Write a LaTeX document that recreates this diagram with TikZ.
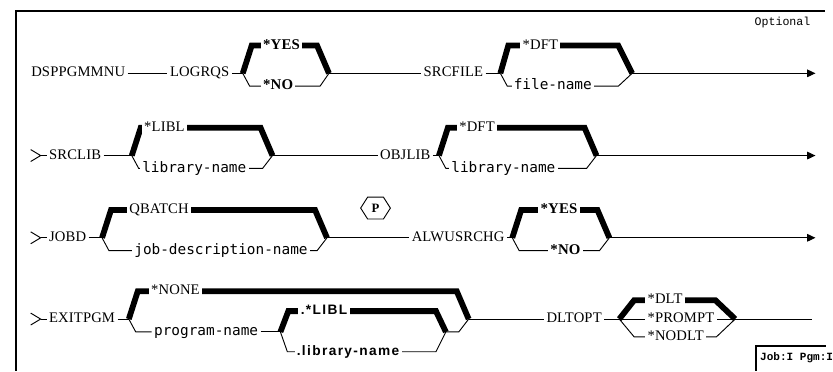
\documentclass[tikz,border=0pt]{standalone}
\usepackage{fontspec}
\setmainfont{Liberation Serif}
\newfontfamily\kwfont[LetterSpace=1]{Liberation Serif}
\newfontfamily\namefont{DejaVu Sans Mono}
\newfontfamily\dotfont[LetterSpace=10]{Liberation Sans}
\newfontfamily\plainmono{Liberation Mono}
\usetikzlibrary{arrows.meta, calc}

% one branch of a choice: from junction #2 out by (#4,#6), across, back in by #5 to junction #3
\newcommand{\optbranch}[6][]{%
    \draw[#1] (#2) -- ++(#4,#6) -- ($(#3)+(-#5,#6)$) -- (#3);}

\begin{document}
\begin{tikzpicture}[x=0.03cm, y=-0.03cm]

% ================================================================
% Geometry in scan pixels (x right, y down), 833 x 374.
%
%   main lines   y = 74, 157, 240, 322   (row pitch about 83)
%   default branch 28 above the main line, drawn as a heavy bar
%   other branch   13 below, thin
%   every row ends in an arrow at x = 823, except the last one
% ================================================================

\def\rowa{74}
\def\rowb{157}
\def\rowc{240}
\def\rowd{322}
\def\up{28}
\def\dn{13}

\tikzset{
    kw/.style={font=\kwfont\fontsize{12.6}{13}\selectfont, anchor=west,
        inner xsep=2pt, inner ysep=1pt, text height=8.8pt, text depth=2.5pt,
        fill=white},
    kwbold/.style={kw, font=\kwfont\bfseries\fontsize{12.8}{13}\selectfont},
    varname/.style={kw, font=\namefont\fontsize{12.4}{13}\selectfont},
    dotname/.style={kw, font=\dotfont\bfseries\fontsize{11.8}{12}\selectfont},
    line/.style={line width=0.8pt},
    bar/.style={line width=5pt},
    frame/.style={line width=1.2pt},
    arr/.style={line width=0.8pt, -{Triangle[length=2.5mm, width=2.3mm]}},
}

% ---------------------------------------------------------------- frame
\draw[frame] (16,374) -- (16,11) -- (833,11);
\node[font=\plainmono\fontsize{10}{11}\selectfont, anchor=east] (optional)
    at (822,23) {Optional};

% ================================================================ row 1
\node[kw] (dsp) at (29,\rowa) {DSPPGMMNU};
\node[kw] (logrqs) at (169,\rowa) {LOGRQS};
\coordinate (A1) at (245,\rowa);
\coordinate (A2) at (332,\rowa);
\optbranch[bar]{A1}{A2}{9}{12}{-\up}
\optbranch[line]{A1}{A2}{7}{9}{\dn}
\node[kwbold] (yesa) at (263,\rowa-\up) {*YES};
\node[kwbold] (noa) at (263,\rowa+\dn) {*NO};

\node[kw] (srcfile) at (425,\rowa) {SRCFILE};
\coordinate (B1) at (505,\rowa);
\coordinate (B2) at (638,\rowa);
\optbranch[bar]{B1}{B2}{8}{14}{-\up}
\optbranch[line]{B1}{B2}{7}{14}{\dn}
\node[kw] (dftb) at (525,\rowa-\up) {*DFT};
\node[varname] (filename) at (516,\rowa+\dn) {file-name};
\coordinate (enda) at (823,\rowa);

\draw[line] (dsp) -- (logrqs);
\draw[line] (logrqs) -- (A1);
\draw[line] (A2) -- (srcfile);
\draw[line] (srcfile) -- (B1);
\draw[arr] (B2) -- (enda);

% ---------------------------------------------------------------- lead-in marks
\foreach \y/\n in {\rowb/b, \rowc/c, \rowd/d} {
    \coordinate (lead\n) at (41,\y);
    \draw[line] (31,\y-6) -- (lead\n) -- (31,\y+6);
}

% ================================================================ row 2
\node[kw] (srclib) at (47,\rowb) {SRCLIB};
\coordinate (C1) at (133,\rowb);
\coordinate (C2) at (275,\rowb);
\optbranch[bar]{C1}{C2}{9}{12}{-\up}
\optbranch[line]{C1}{C2}{7}{10}{\dn}
\node[kw] (liblc) at (143,\rowb-\up) {*LIBL};
\node[varname] (libnamec) at (141,\rowb+\dn) {library-name};

\node[kw] (objlib) at (381,\rowb) {OBJLIB};
\coordinate (D1) at (443,\rowb);
\coordinate (D2) at (602,\rowb);
\optbranch[bar]{D1}{D2}{9}{12}{-\up}
\optbranch[line]{D1}{D2}{7}{10}{\dn}
\node[kw] (dftd) at (461,\rowb-\up) {*DFT};
\node[varname] (libnamed) at (453,\rowb+\dn) {library-name};
\coordinate (endb) at (823,\rowb);

\draw[line] (leadb) -- (srclib);
\draw[line] (srclib) -- (C1);
\draw[line] (C2) -- (objlib);
\draw[line] (objlib) -- (D1);
\draw[arr] (D2) -- (endb);

% ================================================================ row 3
\node[kw] (jobd) at (47,\rowc) {JOBD};
\coordinate (E1) at (103,\rowc);
\coordinate (E2) at (330,\rowc);
\optbranch[bar]{E1}{E2}{9}{12}{-\up}
\optbranch[line]{E1}{E2}{7}{10}{\dn}
\node[kw] (qbatch) at (128,\rowc-\up) {QBATCH};
\node[varname] (jobdesc) at (133,\rowc+\dn) {job-description-name};

% the P in a hexagon
\node[font=\bfseries\fontsize{11}{12}\selectfont, inner sep=0pt] (prompt)
    at (379,210) {P};
\draw[line] (prompt.center) ++(-15,0) -- ++(7,-11) -- ++(16,0) -- ++(7,11)
    -- ++(-7,11) -- ++(-16,0) -- cycle;

\node[kw] (alwusrchg) at (413,\rowc) {ALWUSRCHG};
\coordinate (F1) at (517,\rowc);
\coordinate (F2) at (615,\rowc);
\optbranch[bar]{F1}{F2}{9}{12}{-\up}
\optbranch[line]{F1}{F2}{7}{10}{\dn}
\node[kwbold] (yesf) at (543,\rowc-\up) {*YES};
\node[kwbold] (nof) at (553,\rowc+\dn) {*NO};
\coordinate (endc) at (823,\rowc);

\draw[line] (leadc) -- (jobd);
\draw[line] (jobd) -- (E1);
\draw[line] (E2) -- (alwusrchg);
\draw[line] (alwusrchg) -- (F1);
\draw[arr] (F2) -- (endc);

% ================================================================ row 4
\node[kw] (exitpgm) at (47,\rowd) {EXITPGM};
\coordinate (G1) at (130,\rowd);
\coordinate (G2) at (473,\rowd);
\optbranch[bar]{G1}{G2}{9}{12}{-\up}
\node[kw] (none) at (150,\rowd-\up) {*NONE};
\node[varname] (pgmname) at (153,\rowd+\dn) {program-name};

% library choice nested on the lower branch
\coordinate (H1) at (283,\rowd+\dn);
\coordinate (H2) at (450,\rowd+\dn);
\optbranch[bar]{H1}{H2}{8}{10}{-21}
\optbranch[line]{H1}{H2}{7}{10}{20}
\node[dotname] (dotlibl) at (301,\rowd+\dn-21) {.*LIBL};
\node[dotname] (dotlibname) at (297,\rowd+\dn+20) {.library-name};

\node[kw] (dltopt) at (549,\rowd) {DLTOPT};
\coordinate (I1) at (625,\rowd);
\coordinate (I2) at (742,\rowd);
\optbranch[bar]{I1}{I2}{15}{20}{-19}
\optbranch[line]{I1}{I2}{15}{19}{18}
\draw[line] (I1) -- (I2);
\node[kw] (dlt) at (651,\rowd-19) {*DLT};
\node[kw] (promptopt) at (651,\rowd) {*PROMPT};
\node[kw] (nodlt) at (651,\rowd+18) {*NODLT};
\coordinate (endd) at (820,\rowd);

\draw[line] (leadd) -- (exitpgm);
\draw[line] (exitpgm) -- (G1);
\draw[line] (G1) -- ++(7,\dn) -- (pgmname);
\draw[line] (pgmname) -- (H1);
\draw[line] (H2) -- ++(13,0) -- (G2);
\draw[line] (G2) -- (dltopt);
\draw[line] (dltopt) -- (I1);
\draw[line] (I2) -- (endd);

% ---------------------------------------------------------------- corner tag
\draw[frame] (763,374) -- (763,349) -- (834,349);
\node[font=\plainmono\bfseries\fontsize{9.5}{10}\selectfont, anchor=west,
      inner sep=0pt] (jobtag) at (767,361) {Job:I Pgm:I};

\useasboundingbox (0,0) rectangle (833,374);
\end{tikzpicture}
\end{document}
